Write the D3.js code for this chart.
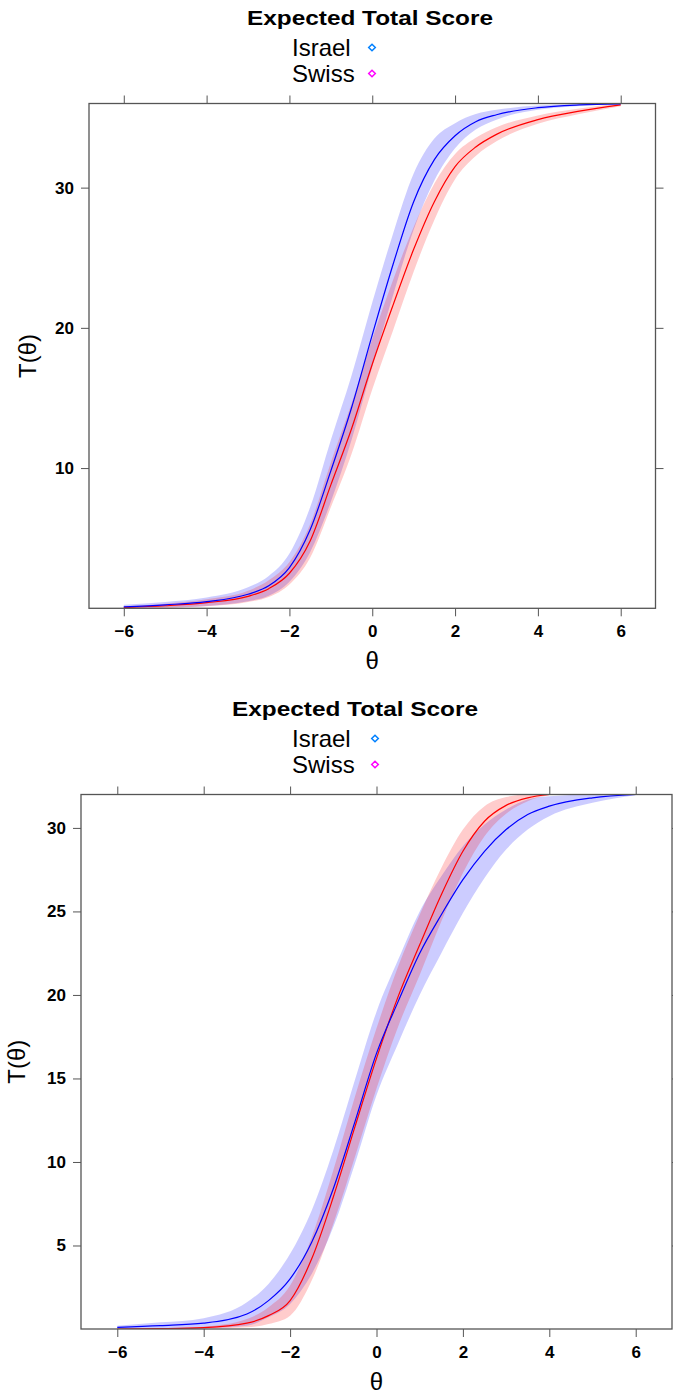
<!DOCTYPE html>
<html>
<head>
<meta charset="utf-8">
<script src="https://cdn.jsdelivr.net/npm/d3@7"></script>
<style>
  body { margin: 0; background: #fff; }
  svg text { font-family: "Liberation Sans", Arial, sans-serif; fill: #000; }
</style>
</head>
<body>
<div id="screen"></div>
<script>
var width = 673;
var height = 1394;

// ---- data: top panel ----
var thetaTop = [-6, -5, -4, -3, -2.5, -2, -1.5, -1, -0.5, 0, 0.5, 1, 1.5, 2, 2.5, 3, 4, 5, 6];
var israelTop   = [0.1, 0.25, 0.47, 1.0, 1.6, 2.9, 5.6, 9.8, 14.3, 19.5, 24.5, 29.0, 32.0, 33.7, 34.7, 35.2, 35.7, 35.9, 35.97];
var israelTopLo = [0, 0.05, 0.17, 0.5, 0.9, 1.9, 4.0, 7.6, 12.0, 17.2, 22.3, 27.0, 30.5, 32.8, 34.15, 34.85, 35.55, 35.83, 35.94];
var israelTopHi = [0.25, 0.45, 0.77, 1.5, 2.3, 3.9, 7.2, 12.0, 16.6, 21.8, 26.7, 31.0, 33.5, 34.6, 35.25, 35.55, 35.85, 35.97, 36.0];
var swissTop   = [0.05, 0.18, 0.4, 0.85, 1.4, 2.5, 4.8, 8.8, 12.8, 17.4, 21.6, 25.6, 29.0, 31.5, 32.9, 33.8, 34.85, 35.45, 35.9];
var swissTopLo = [0, 0.03, 0.15, 0.45, 0.8, 1.7, 3.6, 7.2, 11.0, 15.6, 19.8, 24.0, 27.7, 30.6, 32.25, 33.3, 34.55, 35.25, 35.8];
var swissTopHi = [0.15, 0.33, 0.65, 1.25, 2.0, 3.3, 6.0, 10.4, 14.6, 19.2, 23.4, 27.2, 30.3, 32.4, 33.55, 34.3, 35.15, 35.65, 36.0];

// ---- data: bottom panel ----
var thetaBottom = [-6, -5, -4, -3, -2.5, -2, -1.5, -1, -0.5, 0, 0.5, 1, 1.5, 2, 2.5, 3, 3.5, 4, 5, 6];
var israelBottom   = [0.1, 0.2, 0.35, 0.9, 1.7, 3.0, 5.2, 8.4, 12.4, 16.5, 19.6, 22.5, 24.8, 26.9, 28.6, 29.9, 30.8, 31.3, 31.8, 32.0];
var israelBottomLo = [0, 0, 0.05, 0.2, 0.7, 1.5, 3.3, 6.1, 9.9, 14.0, 17.1, 20.0, 22.5, 24.9, 27.0, 28.7, 29.9, 30.7, 31.5, 31.95];
var israelBottomHi = [0.2, 0.4, 0.65, 1.6, 2.7, 4.5, 7.1, 10.7, 14.9, 19.0, 22.1, 25.0, 27.1, 28.9, 30.2, 31.1, 31.7, 31.9, 32.0, 32.0];
var thetaBottomSwiss = [-6, -5, -4, -3, -2.5, -2, -1.5, -1, -0.5, 0, 0.5, 1, 1.5, 2, 2.5, 3, 3.5, 4];
var swissBottom   = [0, 0.02, 0.08, 0.35, 0.8, 1.7, 4.2, 7.9, 12.1, 16.2, 19.9, 23.0, 26.0, 28.6, 30.4, 31.35, 31.8, 32.0];
var swissBottomLo = [0, 0, 0.02, 0.1, 0.3, 0.8, 2.9, 6.3, 10.3, 14.4, 18.1, 21.2, 24.4, 27.3, 29.5, 30.85, 31.6, 31.95];
var swissBottomHi = [0, 0.04, 0.14, 0.6, 1.3, 2.6, 5.5, 9.5, 13.9, 18.0, 21.7, 24.8, 27.6, 29.9, 31.3, 31.85, 32.0, 32.0];

var xTicks = [-6, -4, -2, 0, 2, 4, 6];
var yTicksTop = [10, 20, 30];
var yTicksBottom = [5, 10, 15, 20, 25, 30];
var legendNames = ["Israel", "Swiss"];
var legendColors = ["#0080ff", "#ff00ff"];
var chartTitle = "Expected Total Score";

var svg = d3.select("#screen").append("svg")
  .attr("width", width).attr("height", height);

var zip = function(t, m, lo, hi){
  return t.map(function(d, i){ return {t: d, m: m[i], lo: lo[i], hi: hi[i]}; });
};

var drawPanel = function(p){
  var x = d3.scaleLinear().domain([-6.84, 6.84]).range([p.left, p.right]);
  var y = d3.scaleLinear().domain(p.ydom).range([p.bottom, p.top]);
  var g = svg.append("g");
  var cx = (p.left + p.right) / 2;

  // title + legend (lattice centres the title on the figure, not the panel)
  g.append("text").attr("x", p.titleX).attr("y", p.top - 79)
    .attr("text-anchor", "middle").attr("font-size", 21).attr("font-weight", "bold")
    .attr("textLength", 246).attr("lengthAdjust", "spacingAndGlyphs")
    .text(chartTitle);
  legendNames.forEach(function(name, i){
    var ly = p.top - 56 + i * 26;
    g.append("text").attr("x", 292).attr("y", ly + 8.5)
      .attr("font-size", 24).text(name);
    g.append("path")
      .attr("d", d3.symbol().type(d3.symbolDiamond2).size(28)())
      .attr("transform", "translate(" + p.keyX + "," + ly + ")")
      .attr("fill", "none").attr("stroke", legendColors[i]).attr("stroke-width", 1.5);
  });

  // clip
  var cid = "clip" + p.id;
  svg.append("clipPath").attr("id", cid).append("rect")
    .attr("x", p.left).attr("y", p.top)
    .attr("width", p.right - p.left).attr("height", p.bottom - p.top);
  var plot = g.append("g").attr("clip-path", "url(#" + cid + ")");

  var area = d3.area().curve(d3.curveMonotoneX)
    .x(function(d){ return x(d.t); })
    .y0(function(d){ return y(d.lo); })
    .y1(function(d){ return y(d.hi); });
  var line = d3.line().curve(d3.curveMonotoneX)
    .x(function(d){ return x(d.t); })
    .y(function(d){ return y(d.m); });

  plot.append("path").datum(p.israel).attr("d", area)
    .attr("fill", "#0000ff").attr("fill-opacity", 0.2);
  plot.append("path").datum(p.swiss).attr("d", area)
    .attr("fill", "#ff0000").attr("fill-opacity", 0.2);
  plot.append("path").datum(p.swiss).attr("d", line)
    .attr("fill", "none").attr("stroke", "#ff0000").attr("stroke-width", 1.2);
  plot.append("path").datum(p.israel).attr("d", line)
    .attr("fill", "none").attr("stroke", "#0000ff").attr("stroke-width", 1.2);

  // axes
  var styleAxis = function(a){
    a.select(".domain").remove();
    a.selectAll("line").attr("stroke", "#555");
    a.selectAll("text").attr("font-size", 17).attr("font-weight", "bold").attr("fill", "#000")
      .style("font-family", "'Liberation Sans', Arial, sans-serif");
  };
  g.append("g").attr("transform", "translate(0," + p.bottom + ")")
    .call(d3.axisBottom(x).tickValues(xTicks).tickSize(8).tickPadding(9).tickFormat(d3.format("d")))
    .call(styleAxis);
  g.append("g").attr("transform", "translate(0," + p.top + ")")
    .call(d3.axisTop(x).tickValues(xTicks).tickSize(8).tickFormat(""))
    .call(styleAxis);
  g.append("g").attr("transform", "translate(" + p.left + ",0)")
    .call(d3.axisLeft(y).tickValues(p.yticks).tickSize(8).tickPadding(7))
    .call(styleAxis);
  g.append("g").attr("transform", "translate(" + p.right + ",0)")
    .call(d3.axisRight(y).tickValues(p.yticks).tickSize(8).tickFormat(""))
    .call(styleAxis);

  g.append("rect").attr("x", p.left).attr("y", p.top)
    .attr("width", p.right - p.left).attr("height", p.bottom - p.top)
    .attr("fill", "none").attr("stroke", "#555").attr("stroke-width", 1.3);

  // axis labels
  g.append("text").attr("x", cx).attr("y", p.bottom + 61)
    .attr("text-anchor", "middle").attr("font-size", 24).text("\u03b8");
  g.append("text")
    .attr("transform", "translate(" + p.ylabX + "," + ((p.top + p.bottom) / 2) + ") rotate(-90)")
    .attr("text-anchor", "middle").attr("font-size", 24).text("T(\u03b8)");
};

drawPanel({
  id: 1, left: 89, right: 655.5, top: 103.5, bottom: 608.3, ydom: [0, 36],
  yticks: yTicksTop, ylabX: 36, titleX: 370, keyX: 372,
  israel: zip(thetaTop, israelTop, israelTopLo, israelTopHi),
  swiss: zip(thetaTop, swissTop, swissTopLo, swissTopHi)
});
drawPanel({
  id: 2, left: 81, right: 672, top: 794.5, bottom: 1329, ydom: [0, 32],
  yticks: yTicksBottom, ylabX: 25, titleX: 355, keyX: 375,
  israel: zip(thetaBottom, israelBottom, israelBottomLo, israelBottomHi),
  swiss: zip(thetaBottomSwiss, swissBottom, swissBottomLo, swissBottomHi)
});
</script>
</body>
</html>
